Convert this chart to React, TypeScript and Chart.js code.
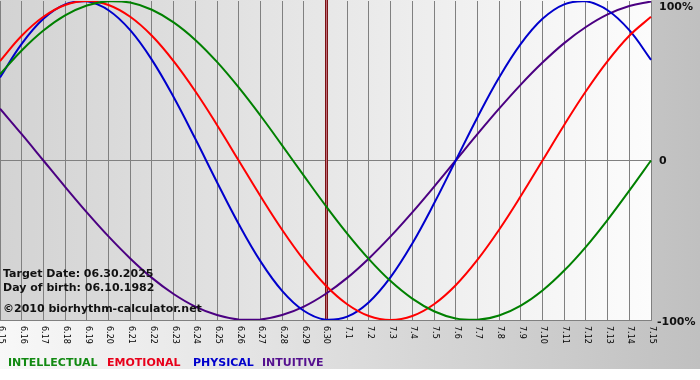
import React, { useEffect, useRef } from 'react';
import { Chart, registerables } from 'chart.js';

Chart.register(...registerables);

const dayLabels = [
  '6.15', '6.16', '6.17', '6.18', '6.19', '6.20', '6.21', '6.22', '6.23', '6.24',
  '6.25', '6.26', '6.27', '6.28', '6.29', '6.30', '7.1', '7.2', '7.3', '7.4',
  '7.5', '7.6', '7.7', '7.8', '7.9', '7.10', '7.11', '7.12', '7.13', '7.14', '7.15',
];

const intellectual = [
  0.541, 0.690, 0.815, 0.910, 0.972, 0.999, 0.990, 0.945, 0.866, 0.756,
  0.618, 0.458, 0.282, 0.095, -0.095, -0.282, -0.458, -0.618, -0.756, -0.866,
  -0.945, -0.990, -0.999, -0.972, -0.910, -0.815, -0.690, -0.541, -0.372, -0.189, 0,
];

const emotional = [
  0.623, 0.782, 0.901, 0.975, 1, 0.975, 0.901, 0.782, 0.623, 0.434,
  0.223, 0, -0.223, -0.434, -0.623, -0.782, -0.901, -0.975, -1, -0.975,
  -0.901, -0.782, -0.623, -0.434, -0.223, 0, 0.223, 0.434, 0.623, 0.782, 0.901,
];

const physical = [
  0.520, 0.731, 0.888, 0.979, 0.998, 0.942, 0.817, 0.631, 0.398, 0.136,
  -0.136, -0.398, -0.631, -0.817, -0.942, -0.998, -0.979, -0.888, -0.731, -0.520,
  -0.270, 0, 0.270, 0.520, 0.731, 0.888, 0.979, 0.998, 0.942, 0.817, 0.631,
];

const intuitive = [
  0.325, 0.165, 0, -0.165, -0.325, -0.476, -0.614, -0.736, -0.837, -0.916,
  -0.969, -0.997, -0.997, -0.969, -0.916, -0.837, -0.736, -0.614, -0.476, -0.325,
  -0.165, 0, 0.165, 0.325, 0.476, 0.614, 0.736, 0.837, 0.916, 0.969, 0.997,
];

const targetIndex = 15;
const yTickValues = [1, 0, -1];
const yTickLabels = ['100%', '0', '-100%'];
const seriesNames = ['INTELLECTUAL', 'EMOTIONAL', 'PHYSICAL', 'INTUITIVE'];
const lineColors = ['#008000', '#ff0000', '#0000cc', '#4b0082'];
const legendColors = ['#128a12', '#e8001a', '#0000cc', '#55118f'];
const infoLines = ['Target Date: 06.30.2025', 'Day of birth: 06.10.1982', '\u00A92010 biorhythm-calculator.net'];

const FONT = '"DejaVu Sans", Verdana, sans-serif';
const legendX = [8, 107, 193, 262];

const decorPlugin = {
  id: 'decor',
  beforeDraw(chart: any) {
    const { ctx, width, height, chartArea: a } = chart;
    ctx.save();
    ctx.fillStyle = '#ffffff';
    ctx.fillRect(0, 0, width, height);
    const g = ctx.createLinearGradient(0, 0, width, 0);
    g.addColorStop(0, '#f8f8f8');
    g.addColorStop(1, '#c0c0c0');
    ctx.fillStyle = g;
    ctx.fillRect(0, 0, width, 369);
    const g2 = ctx.createLinearGradient(a.left, 0, a.right, 0);
    g2.addColorStop(0, '#d3d3d3');
    g2.addColorStop(1, '#fcfcfc');
    ctx.fillStyle = g2;
    ctx.fillRect(a.left, 0, a.right - a.left, a.bottom);
    ctx.restore();
  },
  beforeDatasetsDraw(chart: any) {
    const { ctx, chartArea: a } = chart;
    const x = Math.round(chart.scales.x.getPixelForValue(targetIndex));
    ctx.save();
    ctx.fillStyle = '#7a1414';
    ctx.fillRect(x - 1, 0, 3, a.bottom);
    ctx.fillStyle = '#c06a78';
    ctx.fillRect(x, 0, 1, a.bottom);
    ctx.restore();
  },
  afterDraw(chart: any) {
    const { ctx, chartArea: a } = chart;
    const xs = chart.scales.x;
    const ys = chart.scales.y;
    ctx.save();
    ctx.fillStyle = '#000';
    ctx.font = `8px ${FONT}`;
    ctx.textAlign = 'left';
    ctx.textBaseline = 'middle';
    dayLabels.forEach((lab, i) => {
      const x = xs.getPixelForValue(i);
      ctx.save();
      ctx.translate(x + 1, a.bottom + 6);
      ctx.rotate(Math.PI / 2);
      ctx.fillText(lab, 0, 0);
      ctx.restore();
    });
    ctx.font = `bold 11px ${FONT}`;
    ctx.fillStyle = '#111';
    yTickValues.forEach((v, i) => {
      const y = ys.getPixelForValue(v);
      const yy = i === 0 ? y + 6 : i === 2 ? y + 2 : y + 1;
      ctx.fillText(yTickLabels[i], a.right + (i === 2 ? 6 : 8), yy);
    });
    ctx.textBaseline = 'alphabetic';
    ctx.fillStyle = '#111';
    ctx.fillText(infoLines[0], 3, 277);
    ctx.fillText(infoLines[1], 3, 291);
    ctx.fillText(infoLines[2], 3, 312);
    seriesNames.forEach((name, i) => {
      ctx.fillStyle = legendColors[i];
      ctx.fillText(name, legendX[i], 366);
    });
    ctx.restore();
  },
};

export default function App() {
  const ref = useRef<HTMLCanvasElement | null>(null);
  useEffect(() => {
    if (!ref.current) return;
    const series = [intellectual, emotional, physical, intuitive];
    const chart = new Chart(ref.current, {
      type: 'line',
      data: {
        labels: dayLabels,
        datasets: series.map((d, i) => ({
          label: seriesNames[i],
          data: d,
          borderColor: lineColors[i],
          backgroundColor: lineColors[i],
          borderWidth: 2,
          pointRadius: 0,
          tension: 0.4,
          fill: false,
        })),
      },
      options: {
        responsive: false,
        animation: false,
        layout: { padding: { top: 1, left: 0, right: 0, bottom: 0 } },
        plugins: { legend: { display: false }, tooltip: { enabled: false } },
        scales: {
          x: {
            offset: false,
            grid: { color: '#808080', lineWidth: 1, drawTicks: false },
            border: { display: true, color: '#808080' },
            ticks: { display: false },
            afterFit: (s: any) => { s.height = 60; s.paddingLeft = 0; s.paddingRight = 0; },
          },
          y: {
            position: 'right',
            min: -1,
            max: 1,
            grid: {
              color: (c: any) => (c.tick && c.tick.value === 1 ? 'rgba(0,0,0,0)' : '#808080'),
              lineWidth: 1,
              drawTicks: false,
            },
            border: { display: true, color: '#808080' },
            ticks: { display: false, stepSize: 1 },
            afterFit: (s: any) => { s.width = 49; },
          },
        },
      },
      plugins: [decorPlugin],
    });
    return () => chart.destroy();
  }, []);
  return (
    <div style={{ position: 'absolute', left: 0, top: 0, width: 700, height: 380 }}>
      <canvas ref={ref} width={700} height={380} style={{ display: 'block' }} />
    </div>
  );
}
